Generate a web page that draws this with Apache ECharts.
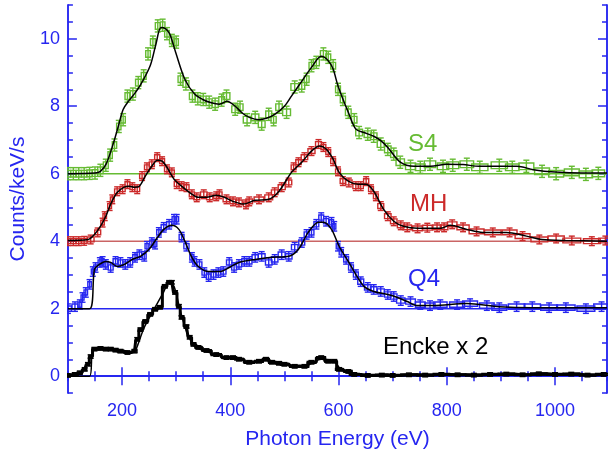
<!DOCTYPE html>
<html><head><meta charset="utf-8">
<script src="https://cdn.jsdelivr.net/npm/echarts@6/dist/echarts.min.js"></script>
<style>html,body{margin:0;padding:0;background:#fff}#c{width:608px;height:458px}</style>
</head><body><div id="c"></div>
<script>
const xMin = 100, xMax = 1096, yMin = -0.5, yMax = 11;
const xMajorTicks = [200, 400, 600, 800, 1000];
const yMajorTicks = [0, 2, 4, 6, 8, 10];
const baselines = [0, 2, 4, 6];
const seriesNames = ['S4', 'MH', 'Q4', 'Encke x 2'];
const seriesErr = [0.18, 0.13, 0.14, 0.05];

const s4Data = [[100,6.00],[110,6.00],[120,6.00],[130,6.00],[140,6.01],[150,6.02],[160,6.10],[170,6.25],[178,6.55],[186,6.85],[194,7.40],[202,7.60],[210,8.30],[220,8.36],[230,8.70],[240,8.90],[248,9.55],[257,9.90],[266,10.38],[275,10.40],[283,10.15],[292,9.95],[300,9.90],[308,8.80],[318,8.66],[330,8.30],[340,8.22],[350,8.20],[361,8.12],[372,8.06],[384,8.18],[393,8.30],[409,7.91],[418,7.97],[431,7.60],[446,7.67],[458,7.47],[471,7.76],[480,7.60],[490,7.97],[504,7.82],[519,8.57],[532,8.60],[541,8.80],[550,9.20],[559,9.30],[572,9.55],[581,9.45],[590,9.20],[599,8.50],[608,8.20],[618,7.82],[629,7.60],[638,7.22],[654,7.17],[665,7.11],[678,6.88],[691,6.72],[702,6.58],[714,6.34],[733,6.22],[751,6.19],[769,6.28],[793,6.22],[811,6.25],[837,6.28],[861,6.19],[897,6.25],[921,6.19],[947,6.22],[976,6.07],[1002,6.00],[1031,6.04],[1057,5.98],[1080,6.01]];
const s4Fit = [[100,6.0],[150,6.02],[160,6.07],[171,6.3],[184,6.9],[193,7.4],[202,7.9],[212,8.15],[222,8.35],[233,8.6],[252,9.2],[262,9.8],[272,10.33],[280,10.3],[288,10.15],[299,9.6],[316,8.8],[334,8.36],[349,8.2],[365,8.1],[380,8.06],[394,8.15],[409,8.0],[422,7.8],[435,7.67],[453,7.6],[468,7.65],[482,7.76],[500,8.0],[513,8.3],[526,8.6],[550,9.15],[568,9.48],[581,9.35],[590,9.1],[599,8.6],[618,7.82],[632,7.32],[647,7.22],[665,7.11],[678,6.98],[691,6.78],[714,6.34],[740,6.22],[770,6.22],[800,6.28],[830,6.27],[860,6.22],[900,6.22],[930,6.22],[960,6.12],[1000,6.05],[1050,6.02],[1096,6.02]];

const mhData = [[100,4.00],[110,4.00],[120,4.00],[130,4.01],[142,4.05],[155,4.26],[164,4.55],[168,4.74],[177,5.04],[182,5.24],[191,5.48],[201,5.54],[210,5.69],[219,5.60],[228,5.54],[237,5.93],[246,6.19],[255,6.28],[265,6.49],[274,6.37],[283,6.13],[292,6.04],[301,5.69],[310,5.63],[319,5.60],[329,5.39],[338,5.30],[351,5.39],[362,5.30],[374,5.33],[380,5.39],[393,5.24],[405,5.18],[416,5.15],[429,5.09],[435,5.18],[453,5.24],[471,5.30],[482,5.45],[495,5.60],[508,5.74],[517,6.19],[526,6.34],[537,6.49],[550,6.67],[563,6.88],[572,6.79],[581,6.64],[590,6.37],[599,6.07],[608,5.78],[619,5.74],[632,5.63],[641,5.63],[651,5.78],[660,5.54],[669,5.33],[678,5.04],[691,4.74],[702,4.59],[715,4.47],[727,4.41],[746,4.38],[764,4.40],[782,4.41],[795,4.41],[810,4.50],[830,4.41],[855,4.29],[885,4.26],[916,4.26],[940,4.15],[971,4.05],[1002,4.08],[1031,4.02],[1068,4.00],[1093,4.02]];
const mhFit = [[100,4.02],[137,4.05],[149,4.2],[160,4.44],[170,4.74],[179,5.1],[191,5.44],[204,5.6],[213,5.63],[223,5.6],[232,5.63],[243,5.93],[255,6.22],[265,6.4],[274,6.37],[283,6.19],[296,5.84],[310,5.63],[325,5.44],[341,5.3],[356,5.3],[374,5.36],[389,5.3],[405,5.18],[424,5.1],[446,5.21],[471,5.24],[490,5.48],[513,6.04],[532,6.34],[550,6.67],[565,6.82],[577,6.73],[590,6.43],[601,6.04],[618,5.78],[636,5.69],[651,5.69],[665,5.48],[683,4.95],[702,4.59],[720,4.44],[746,4.38],[769,4.38],[788,4.38],[806,4.47],[837,4.35],[866,4.26],[910,4.26],[947,4.15],[976,4.05],[1020,4.02],[1096,4.0]];

const q4Data = [[100,2.00],[113,2.06],[122,2.12],[127,2.33],[133,2.48],[140,2.72],[146,3.10],[151,3.22],[159,3.37],[164,3.40],[170,3.31],[179,3.22],[188,3.40],[197,3.37],[206,3.31],[215,3.37],[224,3.52],[232,3.60],[241,3.55],[246,3.85],[255,3.96],[261,3.91],[268,4.26],[277,4.41],[287,4.50],[296,4.65],[301,4.65],[310,4.12],[319,3.85],[329,3.52],[334,3.40],[343,3.31],[352,3.07],[360,2.95],[369,3.01],[378,3.07],[387,3.10],[398,3.37],[407,3.22],[416,3.31],[426,3.40],[435,3.40],[446,3.52],[458,3.55],[471,3.37],[482,3.46],[495,3.60],[508,3.55],[519,3.82],[532,3.96],[541,4.20],[550,4.26],[559,4.50],[568,4.70],[577,4.59],[587,4.56],[592,4.44],[599,3.85],[605,3.67],[614,3.46],[623,3.22],[632,3.01],[641,2.80],[654,2.63],[665,2.57],[678,2.51],[691,2.42],[702,2.36],[715,2.24],[733,2.21],[751,2.12],[769,2.09],[788,2.12],[819,2.12],[843,2.15],[874,2.09],[897,2.03],[929,2.06],[958,2.06],[989,2.03],[1020,2.03],[1057,2.00],[1086,2.06]];
const q4Fit = [[100,2.0],[140,2.0],[149,3.16],[158,3.31],[170,3.4],[179,3.37],[191,3.25],[204,3.31],[219,3.46],[234,3.55],[250,3.76],[265,4.1],[277,4.35],[292,4.47],[305,4.35],[316,4.0],[329,3.52],[341,3.25],[360,3.1],[380,3.1],[398,3.22],[416,3.37],[446,3.46],[477,3.52],[508,3.55],[526,3.76],[544,4.26],[563,4.56],[572,4.56],[587,4.35],[601,3.85],[618,3.4],[632,3.01],[647,2.66],[665,2.51],[691,2.42],[709,2.33],[727,2.21],[746,2.09],[775,2.09],[837,2.15],[897,2.06],[958,2.03],[1096,2.03]];

const enckeData = [[100,0.02],[113,0.05],[122,0.10],[131,0.20],[137,0.35],[142,0.58],[149,0.80],[160,0.82],[170,0.80],[179,0.80],[188,0.77],[197,0.74],[210,0.70],[223,0.74],[228,1.09],[234,1.38],[243,1.62],[252,1.83],[261,1.98],[270,2.04],[279,2.66],[287,2.78],[292,2.78],[298,2.48],[305,2.07],[310,1.74],[319,1.47],[325,1.15],[332,0.94],[341,0.85],[356,0.76],[374,0.64],[393,0.55],[405,0.55],[416,0.50],[435,0.41],[453,0.44],[466,0.50],[477,0.41],[490,0.38],[500,0.35],[519,0.29],[537,0.29],[550,0.41],[568,0.55],[581,0.44],[592,0.44],[601,0.20],[618,0.14],[629,0.05],[654,0.02],[680,0.03],[700,0.02],[730,0.04],[760,0.03],[790,0.05],[820,0.04],[850,0.03],[880,0.05],[910,0.06],[940,0.04],[970,0.07],[1000,0.05],[1030,0.06],[1060,0.03],[1090,0.05]];
const enckeFit = [[100,0],[140,0.0],[146,0.8],[160,0.82],[180,0.78],[200,0.74],[222,0.72],[226,0.8],[241,1.44],[259,1.98],[277,2.5],[287,2.78],[296,2.66],[307,1.98],[319,1.33],[334,0.88],[356,0.73],[374,0.64],[393,0.55],[416,0.5],[435,0.43],[466,0.47],[500,0.35],[537,0.3],[568,0.5],[592,0.44],[605,0.18],[629,0.05],[654,0.02],[1096,0.03]];

const BLUE = '#2626f0', GREEN = '#66bb33', RED = '#cc2a2a', BLACK = '#000000';

function withHalfWidth(arr) {
  return arr.map((p, i) => {
    const prev = i > 0 ? arr[i-1][0] : null, next = i < arr.length-1 ? arr[i+1][0] : null;
    let hw;
    if (prev === null) hw = (next - p[0]) / 2;
    else if (next === null) hw = (p[0] - prev) / 2;
    else hw = (next - prev) / 4;
    return [p[0], p[1], hw];
  });
}
function errRender(color, err, boxFrac, lw) {
  return function (params, api) {
    const x = api.value(0), y = api.value(1), hw = api.value(2);
    const a = api.coord([x - hw, y + err * boxFrac]);
    const b = api.coord([x + hw, y - err * boxFrac]);
    const t = api.coord([x, y + err]), d = api.coord([x, y - err]);
    const cap = 3;
    const st = { stroke: color, lineWidth: lw, fill: null };
    return { type: 'group', children: [
      { type: 'rect', shape: { x: a[0], y: a[1], width: b[0]-a[0], height: b[1]-a[1] }, style: { fill: 'none', stroke: color, lineWidth: lw } },
      { type: 'line', shape: { x1: t[0], y1: t[1], x2: d[0], y2: d[1] }, style: st },
      { type: 'line', shape: { x1: t[0]-cap, y1: t[1], x2: t[0]+cap, y2: t[1] }, style: st },
      { type: 'line', shape: { x1: d[0]-cap, y1: d[1], x2: d[0]+cap, y2: d[1] }, style: st }
    ]};
  };
}
function errSeries(data, color, err, boxFrac, lw) {
  return { type: 'custom', xAxisIndex: 0, yAxisIndex: 0, clip: true, z: 3,
    renderItem: errRender(color, err, boxFrac, lw), encode: { x: 0, y: 1 },
    data: withHalfWidth(data) };
}
function fitSeries(data) {
  return { type: 'line', xAxisIndex: 0, yAxisIndex: 0, data: data, smooth: 0.3, showSymbol: false,
    lineStyle: { color: BLACK, width: 1.5 }, z: 5, silent: true };
}
function baseSeries(v, color, w) {
  return { type: 'line', xAxisIndex: 0, yAxisIndex: 0, data: [[xMin, v], [xMax, v]], showSymbol: false,
    lineStyle: { color: color, width: w }, z: 2, silent: true };
}

const axisLine = { show: true, lineStyle: { color: BLUE, width: 1.5 } };
function xAx(pos, major, labels) {
  const o = { type: 'value', min: xMin, max: xMax, position: pos, splitLine: { show: false },
    axisLine: axisLine,
    axisTick: { show: true, inside: true, length: major ? 9 : 5, lineStyle: { color: BLUE, width: 1.5 } },
    axisLabel: { show: labels, color: BLUE, fontSize: 18, fontFamily: 'Liberation Sans, Arial', margin: 9,
      formatter: v => String(v) } };
  if (major) { o.axisTick.customValues = xMajorTicks; o.axisLabel.customValues = xMajorTicks; }
  else { o.interval = 50; }
  return o;
}
function yAx(pos, major, labels) {
  const o = { type: 'value', min: yMin, max: yMax, position: pos, splitLine: { show: false },
    axisLine: axisLine,
    axisTick: { show: true, inside: true, length: major ? 9 : 5, lineStyle: { color: BLUE, width: 1.5 } },
    axisLabel: { show: labels, color: BLUE, fontSize: 18, fontFamily: 'Liberation Sans, Arial', margin: 8,
      formatter: v => String(v) } };
  if (major) { o.axisTick.customValues = yMajorTicks; o.axisLabel.customValues = yMajorTicks; }
  else { o.interval = 0.5; }
  return o;
}
const xa0 = xAx('bottom', true, true);
xa0.name = 'Photon Energy (eV)'; xa0.nameLocation = 'middle'; xa0.nameGap = 36;
xa0.nameTextStyle = { color: BLUE, fontSize: 21, fontFamily: 'Liberation Sans, Arial' };
const ya0 = yAx('left', true, true);
ya0.name = 'Counts/keV/s'; ya0.nameLocation = 'middle'; ya0.nameGap = 36;
ya0.nameTextStyle = { color: BLUE, fontSize: 21, fontFamily: 'Liberation Sans, Arial' };

const labelStyle = (txt, color, left, top) => ({ type: 'text', left: left, top: top, z: 10,
  style: { text: txt, fill: color, fontSize: 24, fontFamily: 'Liberation Sans, Arial' } });

const chart = echarts.init(document.getElementById('c'), null, { renderer: 'canvas' });
chart.setOption({
  animation: false,
  backgroundColor: '#fff',
  grid: { left: 64, right: 1, top: 5, bottom: 65, containLabel: false },
  xAxis: [xa0, xAx('bottom', false, false), xAx('top', true, false), xAx('top', false, false)],
  yAxis: [ya0, yAx('left', false, false), yAx('right', true, false), yAx('right', false, false)],
  series: [
    baseSeries(baselines[3], GREEN, 1.5),
    baseSeries(baselines[2], '#b01818', 1),
    baseSeries(baselines[1], BLUE, 1.5),
    baseSeries(baselines[0], BLUE, 1.5),
    errSeries(s4Data, GREEN, seriesErr[0], 0.55, 1.4),
    errSeries(mhData, RED, seriesErr[1], 0.55, 1.4),
    errSeries(q4Data, BLUE, seriesErr[2], 0.55, 1.4),
    { type: 'line', xAxisIndex: 0, yAxisIndex: 0, data: enckeData, step: 'middle', showSymbol: false,
      lineStyle: { color: BLACK, width: 3 }, z: 3, silent: true },
    errSeries(enckeData, BLACK, seriesErr[3], 0.5, 1.5),
    fitSeries(s4Fit), fitSeries(mhFit), fitSeries(q4Fit), fitSeries(enckeFit)
  ],
  graphic: [
    labelStyle(seriesNames[0], GREEN, 408, 132),
    labelStyle(seriesNames[1], RED, 410, 192),
    labelStyle(seriesNames[2], BLUE, 408, 267),
    labelStyle(seriesNames[3], BLACK, 383, 335)
  ]
});
</script></body></html>
